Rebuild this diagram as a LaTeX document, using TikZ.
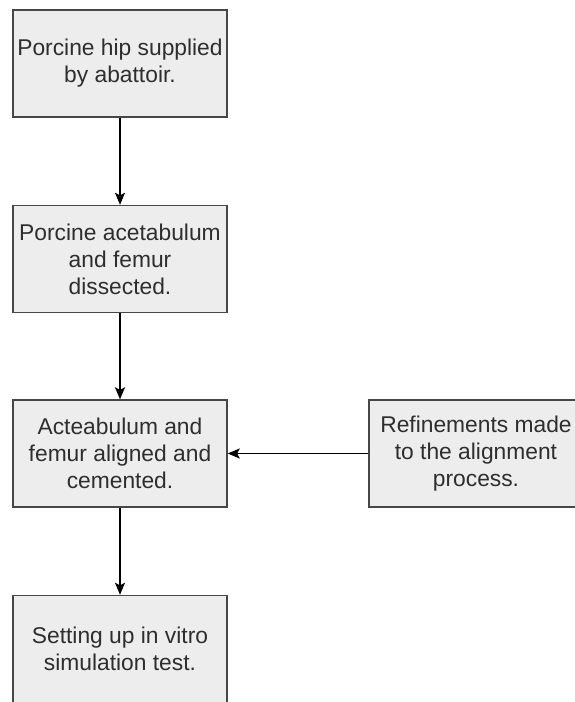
\documentclass[tikz,border=0pt]{standalone}
\usepackage{fontspec}
\setmainfont{Liberation Sans}
\usetikzlibrary{arrows.meta}

\begin{document}
\begin{tikzpicture}[x=1pt, y=1pt]

	\def\W{575}
	\def\H{702}

	\def\xl{120}
	\def\xr{476}

	\def\ya{638.5}
	\def\yb{443}
	\def\yc{248.5}
	\def\yd{53}

	% Colours
	\colorlet{boxfill}{black!7}
	\colorlet{boxline}{black!72}

	% Styles
	\tikzstyle{stagebox}=[draw=boxline, fill=boxfill, line width=1.4pt,
		minimum width=214pt, minimum height=107pt, inner sep=0pt,
		align=center, font=\fontsize{22.8}{27}\selectfont, text=black!82]
	\tikzstyle{flowline}=[-{Stealth[length=12pt, width=10pt, inset=2.5pt]}, line width=1.4pt]

	\useasboundingbox (0, 0) rectangle (\W, \H);
	\clip (0, 0) rectangle (\W, \H);

	%== Main sequence ==========================================================
	\node[stagebox] (hip)    at (\xl, \ya) {Porcine hip supplied\\by abattoir.};
	\node[stagebox] (dissect) at (\xl, \yb) {Porcine acetabulum\\and femur\\dissected.};
	\node[stagebox] (cement) at (\xl, \yc) {Acteabulum and\\femur aligned and\\cemented.};
	\node[stagebox] (setup)  at (\xl, \yd) {Setting up in vitro\\simulation test.};

	%== Feedback ===============================================================
	\node[stagebox] (refine) at (\xr, \yc) {Refinements made\\to the alignment\\process.};

	% Arrows
	\draw[flowline] (hip) -- (dissect);
	\draw[flowline] (dissect) -- (cement);
	\draw[flowline] (cement) -- (setup);
	\draw[flowline] (refine) -- (cement);

\end{tikzpicture}
\end{document}
